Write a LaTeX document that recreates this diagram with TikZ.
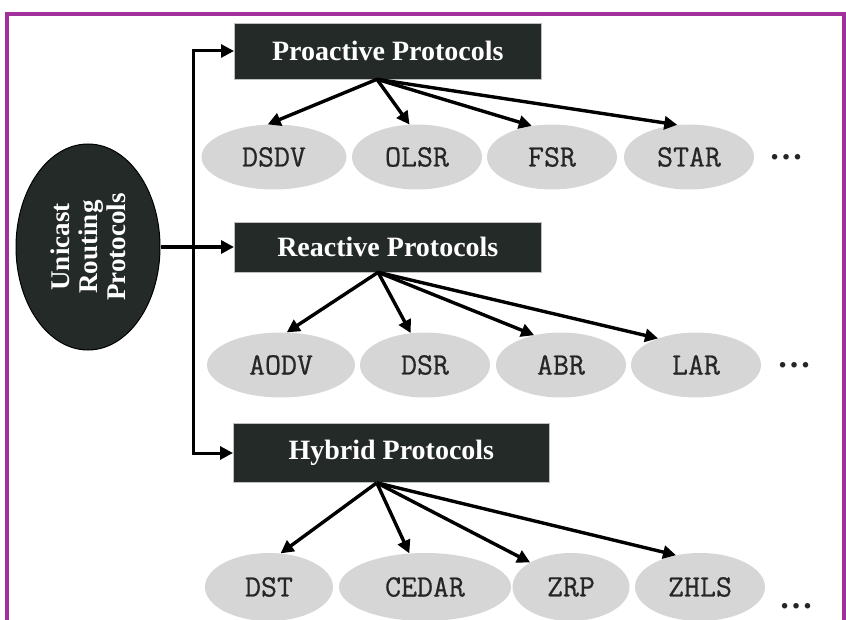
\documentclass[tikz,border=0pt]{standalone}
\usepackage{fontspec}
\newfontfamily\boxfont{Liberation Serif}
\newfontfamily\ovalfont{Latin Modern Mono}[FakeBold=0.6]
\usetikzlibrary{arrows.meta,shapes.geometric}
\definecolor{framepurple}{RGB}{160,48,154}
\definecolor{boxdark}{RGB}{35,42,40}
\definecolor{ovalgray}{RGB}{214,214,214}
\tikzset{arr/.style = {-{Triangle[length=13pt,width=13pt]}, line width=3.4pt}}

\begin{document}
\begin{tikzpicture}[x=1pt, y=-1pt,
    group/.style={fill=boxdark, draw=gray!50, line width=0.6pt, text=white,
        font={\boxfont\bfseries\fontsize{28}{30}\selectfont},
        minimum width=307pt, minimum height=56pt, anchor=west, inner sep=0pt},
    proto/.style={ellipse, fill=ovalgray, minimum width=130pt, minimum height=65pt,
        inner sep=0pt, text=black!85, font={\ovalfont\fontsize{31}{33}\selectfont}},
    more/.style={font={\boxfont\bfseries\fontsize{34}{36}\selectfont}, text=black!85},
    ]
    \useasboundingbox (0,0) rectangle (846,620);
    % frame, open at the bottom
    \draw[framepurple, line width=3.2pt] (7,640) -- (7,14) -- (844,14) -- (844,640);

    % root oval
    \node[ellipse, fill=boxdark, draw=black, line width=1pt, rotate=90,
        minimum width=206pt, minimum height=144pt, text=white, align=center,
        font={\boxfont\bfseries\fontsize{27}{28}\selectfont}] (uni) at (88,247)
        {Unicast\\Routing\\Protocols};

    % protocol classes
    \node[group] (pro) at (234,51) {Proactive Protocols};
    \node[group, minimum height=50pt] (rea) at (234,247) {Reactive Protocols};
    \node[group, minimum width=316pt, minimum height=59pt] (hyb) at (233,453) {Hybrid Protocols};

    \coordinate (bus) at (193,247);
    \draw[arr] (uni) -- (rea);
    \draw[arr, line width=3pt] (bus) |- (pro);
    \draw[arr, line width=3pt] (bus) |- (hyb);

    % proactive row
    \node[proto, minimum width=145pt] (dsdv) at (274,157) {DSDV};
    \node[proto] (olsr) at (417,157) {OLSR};
    \node[proto] (fsr) at (552,157) {FSR};
    \node[proto] (star) at (689,157) {STAR};
    \node[more] (pdots) at (786,157) {\ldots};

    \draw[arr] (pro.-111) -- (dsdv.101);
    \draw[arr] (pro.-111) -- (olsr.103);
    \draw[arr] (pro.-111) -- (fsr.123);
    \draw[arr] (pro.-111) -- (star.110);

    % reactive row
    \node[proto, minimum width=148pt] (aodv) at (281,365) {AODV};
    \node[proto] (dsr) at (425,365) {DSR};
    \node[proto] (abr) at (561,365) {ABR};
    \node[proto] (lar) at (696,365) {LAR};
    \node[more] (rdots) at (794,365) {\ldots};

    \draw[arr] (rea.-111) -- (aodv.80);
    \draw[arr] (rea.-111) -- (dsr.114);
    \draw[arr] (rea.-111) -- (abr.132);
    \draw[arr] (rea.-111) -- (lar.145);

    % hybrid row
    \node[proto, minimum width=128pt, minimum height=68pt] (dst) at (269,587) {DST};
    \node[proto, minimum width=172pt, minimum height=68pt] (cedar) at (425,587) {CEDAR};
    \node[proto, minimum width=117pt, minimum height=68pt] (zrp) at (571,587) {ZRP};
    \node[proto, minimum height=68pt] (zhls) at (700,587) {ZHLS};
    \node[more] (hdots) at (796,606) {\ldots};

    \draw[arr] (hyb.-116) -- (dst.71);
    \draw[arr] (hyb.-116) -- (cedar.115);
    \draw[arr] (hyb.-116) -- (zrp.149);
    \draw[arr] (hyb.-116) -- (zhls.127);
\end{tikzpicture}
\end{document}
